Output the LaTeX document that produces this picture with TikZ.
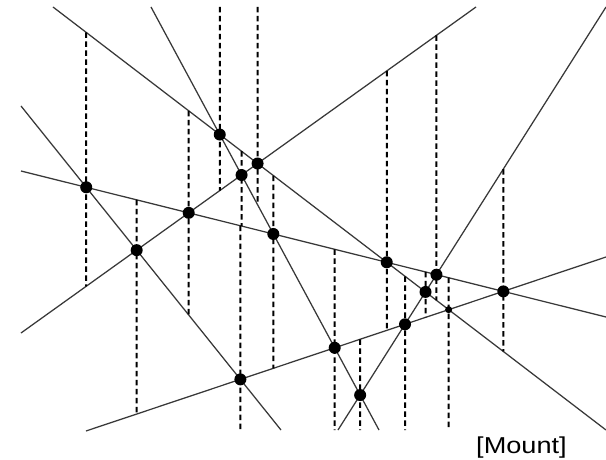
\documentclass[tikz,border=0pt]{standalone}
\usepackage{fontspec}
\setmainfont{Liberation Sans}
\usetikzlibrary{calc}
\begin{document}
\begin{tikzpicture}[x=1pt,y=-1pt,
  ln/.style={draw=black!78, line width=1.25pt},
  dl/.style={draw=black, line width=2pt, dash pattern=on 5.5pt off 3.5pt},
  dot/.style={circle, fill=black, inner sep=0pt, minimum size=12pt},
  sdot/.style={circle, fill=black, inner sep=0pt, minimum size=7pt}]
\useasboundingbox (0,0) rectangle (606,460);
\fill[white] (0,0) rectangle (606,460);
\coordinate (T) at (0,7);
\coordinate (B) at (0,430);
% lines
\coordinate (L1a) at (53,7);   \coordinate (L1b) at (606,430);
\coordinate (L2a) at (151,7);  \coordinate (L2b) at (379,430);
\coordinate (L3a) at (606,7);  \coordinate (L3b) at (338,430);
\coordinate (L4a) at (476,7);  \coordinate (L4b) at (21,333);
\coordinate (L5a) at (21,171); \coordinate (L5b) at (606,317);
\coordinate (L6a) at (21,106); \coordinate (L6b) at (281,430);
\coordinate (L7a) at (86,431); \coordinate (L7b) at (606,257);
\draw[ln] (L1a) -- (L1b);
\draw[ln] (L2a) -- (L2b);
\draw[ln] (L3a) -- (L3b);
\draw[ln] (L4a) -- (L4b);
\draw[ln] (L5a) -- (L5b);
\draw[ln] (L6a) -- (L6b);
\draw[ln] (L7a) -- (L7b);
% vertices
\coordinate (P12) at (intersection of L1a--L1b and L2a--L2b);
\coordinate (P14) at (intersection of L1a--L1b and L4a--L4b);
\coordinate (P24) at (intersection of L2a--L2b and L4a--L4b);
\coordinate (P56) at (intersection of L5a--L5b and L6a--L6b);
\coordinate (P45) at (intersection of L4a--L4b and L5a--L5b);
\coordinate (P46) at (intersection of L4a--L4b and L6a--L6b);
\coordinate (P25) at (intersection of L2a--L2b and L5a--L5b);
\coordinate (P15) at (intersection of L1a--L1b and L5a--L5b);
\coordinate (P35) at (intersection of L3a--L3b and L5a--L5b);
\coordinate (P13) at (intersection of L1a--L1b and L3a--L3b);
\coordinate (P37) at (intersection of L3a--L3b and L7a--L7b);
\coordinate (P57) at (intersection of L5a--L5b and L7a--L7b);
\coordinate (P27) at (intersection of L2a--L2b and L7a--L7b);
\coordinate (P67) at (intersection of L6a--L6b and L7a--L7b);
\coordinate (P23) at (intersection of L2a--L2b and L3a--L3b);
\coordinate (P17) at (intersection of L1a--L1b and L7a--L7b);
\foreach \p in {P12,P14,P24,P56,P45,P46,P25,P15,P35,P13,P37,P57,P27,P67,P23,P17}
  \coordinate (\p v) at ($(\p)+(0,10)$);
% vertical dashed extensions
\draw[dl] (P12 |- T) -- (intersection of P12--P12v and L4a--L4b);
\draw[dl] (P14 |- T) -- (intersection of P14--P14v and L2a--L2b);
\draw[dl] (intersection of P24--P24v and L1a--L1b) -- (intersection of P24--P24v and L5a--L5b);
\draw[dl] (intersection of P56--P56v and L1a--L1b) -- (intersection of P56--P56v and L4a--L4b);
\draw[dl] (intersection of P45--P45v and L1a--L1b) -- (intersection of P45--P45v and L6a--L6b);
\draw[dl] (intersection of P46--P46v and L5a--L5b) -- (intersection of P46--P46v and L7a--L7b);
\draw[dl] (intersection of P25--P25v and L1a--L1b) -- (intersection of P25--P25v and L7a--L7b);
\draw[dl] (intersection of P15--P15v and L4a--L4b) -- (intersection of P15--P15v and L7a--L7b);
\draw[dl] (intersection of P35--P35v and L4a--L4b) -- (intersection of P35--P35v and L1a--L1b);
\draw[dl] (intersection of P13--P13v and L5a--L5b) -- (intersection of P13--P13v and L7a--L7b);
\draw[dl] (intersection of P37--P37v and L1a--L1b) -- (P37 |- B);
\draw[dl] (intersection of P57--P57v and L3a--L3b) -- (intersection of P57--P57v and L1a--L1b);
\draw[dl] (intersection of P27--P27v and L5a--L5b) -- (P27 |- B);
\draw[dl] (intersection of P67--P67v and L5a--L5b) -- (P67 |- B);
\draw[dl] (intersection of P23--P23v and L7a--L7b) -- (P23 |- B);
\draw[dl] (intersection of P17--P17v and L5a--L5b) -- (P17 |- B);
% dots
\foreach \p in {P12,P14,P24,P56,P45,P46,P25,P15,P35,P13,P37,P57,P27,P67,P23}
  \node[dot] (d\p) at (\p) {};
\node[sdot] (dP17) at (P17) {};
% label
\node[font=\fontsize{23}{26}\selectfont, anchor=base, inner sep=0pt] (lbl) at (521.5,453) {\scalebox{1.18}[1]{[Mount]}};
\end{tikzpicture}
\end{document}
